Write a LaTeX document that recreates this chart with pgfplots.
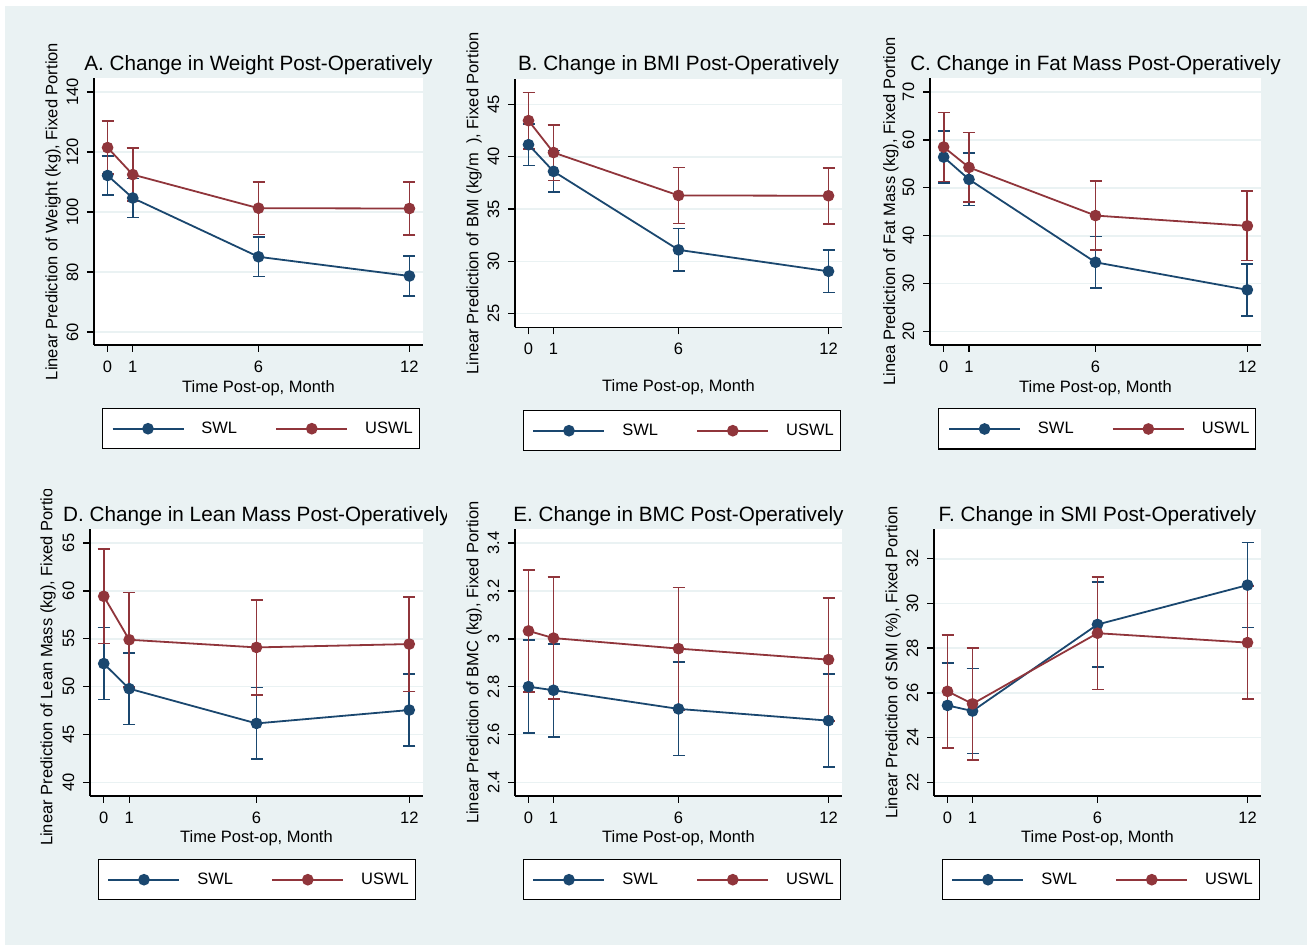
\documentclass[border=0pt]{standalone}
\usepackage{fontspec}
\setmainfont{Liberation Sans}
\usepackage{pgfplots}
\usepackage{pgfplotstable}
\pgfplotsset{compat=1.18}

\definecolor{navy}{HTML}{1A476F}
\definecolor{maroon}{HTML}{90353B}
\definecolor{bgc}{HTML}{EAF2F3}

% t = month, s/se = SWL mean and CI half-width, u/ue = USWL
\pgfplotstableread{
t s se u ue
0 112.2 6.6 121.5 8.9
1 104.7 6.5 112.5 8.8
6 85.1 6.6 101.3 8.8
12 78.7 6.7 101.2 8.8
}\dA
\pgfplotstableread{
t s se u ue
0 41.15 2.0 43.45 2.70
1 38.6 2.0 40.4 2.66
6 31.1 2.03 36.3 2.67
12 29.05 2.03 36.27 2.68
}\dB
\pgfplotstableread{
t s se u ue
0 56.4 5.4 58.5 7.2
1 51.75 5.45 54.25 7.25
6 34.45 5.4 44.2 7.2
12 28.7 5.4 42.05 7.25
}\dC
\pgfplotstableread{
t s se u ue
0 52.4 3.76 59.43 4.94
1 49.78 3.75 54.89 4.95
6 46.15 3.75 54.09 4.97
12 47.55 3.75 54.44 4.95
}\dD
\pgfplotstableread{
t s se u ue
0 2.800 0.194 3.033 0.256
1 2.785 0.194 3.003 0.256
6 2.707 0.195 2.959 0.256
12 2.658 0.195 2.913 0.257
}\dE
\pgfplotstableread{
t s se u ue
0 25.44 1.89 26.07 2.52
1 25.19 1.90 25.51 2.50
6 29.06 1.90 28.67 2.52
12 30.82 1.90 28.25 2.52
}\dF

\pgfplotsset{
  legend image code/.code={
    \draw[#1, mark=none] (0pt,0pt) -- (71pt,0pt);
    \draw[#1, only marks] plot coordinates {(35.5pt,0pt)};
  },
  stpanel/.style={
    scale only axis,
    anchor=south west,
    xmin=-0.54, xmax=12.54,
    xtick={0,1,6,12},
    axis x line*=bottom, axis y line*=left,
    axis line style={line width=1.4pt, black, -},
    major tick style={line width=1.4pt, black},
    major tick length=7pt,
    tick align=outside,
    axis background/.style={fill=white},
    ymajorgrids,
    grid style={line width=1.6pt, color=bgc},
    tick label style={font=\fontsize{16.5}{18}\selectfont},
    label style={font=\fontsize{16.5}{18}\selectfont},
    every axis title/.style={anchor=center, font=\fontsize{20.7}{24}\selectfont},
    /pgf/number format/assume math mode=true,
    yticklabel style={rotate=90, anchor=south, inner xsep=0pt, inner ysep=8.5pt},
    xticklabel style={anchor=north, inner xsep=0pt, inner ysep=8.5pt},
    xlabel={Time Post-op, Month},
    legend columns=2,
    legend style={draw=black, line width=1.2pt, fill=white,
      inner xsep=9.3pt, inner ysep=13.6pt, column sep=0pt,
      anchor=north west, nodes={inner sep=0pt},
      font=\fontsize{16.5}{18}\selectfont},
  },
  ci/.style={only marks, mark=none, forget plot, line width=1.7pt,
    error bars/.cd, y dir=both, y explicit,
    error bar style={line width=1.7pt},
    error mark options={rotate=90, mark size=6pt, line width=1.7pt}},
  ln/.style={line width=1.8pt, mark=*, mark size=4.9pt},
}

\newcommand{\series}[1]{
  \addplot[navy, ci] table[x=t, y=s, y error=se] {#1};
  \addplot[maroon, ci] table[x=t, y=u, y error=ue] {#1};
  \addplot[navy, ln, mark options={fill=navy}] table[x=t, y=s] {#1};
  \addlegendentry{\makebox[91pt][l]{\hspace{17pt}SWL}}
  \addplot[maroon, ln, mark options={fill=maroon}] table[x=t, y=u] {#1};
  \addlegendentry{\makebox[61.7pt][l]{\hspace{17pt}USWL}}
}

\begin{document}
\begin{tikzpicture}
\useasboundingbox (0pt,0pt) rectangle (1307pt,945pt);
\fill[white] (0pt,0pt) rectangle (1307pt,945pt);
\fill[bgc] (5pt,0pt) rectangle (1307pt,939pt);

% A
\begin{axis}[stpanel, at={(94pt,600pt)}, width=329pt, height=267pt,
  ymin=55.7, ymax=144.7, ytick={60,80,...,140},
  title={A. Change in Weight Post-Operatively},
  title style={at={(axis description cs:0.5,1.049)}},
  ylabel={Linear Prediction of Weight (kg), Fixed Portion},
  ylabel style={at={(axis description cs:-0.1246,0.5)}, anchor=center},
  xlabel style={at={(axis description cs:0.5,-0.162)}, anchor=center},
  legend style={at={(0.0234,-0.236)}}]
\series{\dA}
\end{axis}

% B
\begin{axis}[stpanel, at={(515pt,617.7pt)}, width=327pt, height=248pt,
  ymin=23.7, ymax=47.4, ytick={25,30,...,45},
  title={B. Change in BMI Post-Operatively},
  title style={at={(axis description cs:0.5,1.058)}},
  ylabel={Linear Prediction of BMI (kg/m\hspace{9pt}), Fixed Portion},
  ylabel style={at={(axis description cs:-0.1254,0.5)}, anchor=center},
  xlabel style={at={(axis description cs:0.5,-0.241)}, anchor=center},
  legend style={at={(0.0235,-0.3335)}}]
\series{\dB}
\end{axis}

% C
\begin{axis}[stpanel, at={(930pt,600pt)}, width=331pt, height=267pt,
  ymin=17.2, ymax=72.9, ytick={20,30,...,70},
  title={C. Change in Fat Mass Post-Operatively},
  title style={at={(axis description cs:0.5,1.049)}},
  ylabel={Linea Prediction of Fat Mass (kg), Fixed Portion},
  ylabel style={at={(axis description cs:-0.118,0.5)}, anchor=center},
  xlabel style={at={(axis description cs:0.5,-0.162)}, anchor=center},
  legend style={at={(0.025,-0.237)}}]
\series{\dC}
\end{axis}

% D, clipped at its panel edge as in the source
\begin{scope}
\clip (0pt,0pt) rectangle (446pt,455pt);
\begin{axis}[stpanel, at={(90pt,149pt)}, width=333pt, height=267pt,
  ymin=38.57, ymax=66.46, ytick={40,45,...,65},
  title={D. Change in Lean Mass Post-Operatively},
  title style={at={(axis description cs:0.5,1.049)}},
  ylabel={Linear Prediction of Lean Mass (kg), Fixed Portion},
  ylabel style={at={(axis description cs:-0.126,0.5)}, anchor=center},
  xlabel style={at={(axis description cs:0.5,-0.159)}, anchor=center},
  legend style={at={(0.0231,-0.236)}}]
\series{\dD}
\end{axis}
\end{scope}

% E
\begin{axis}[stpanel, at={(515pt,149pt)}, width=327pt, height=267pt,
  ymin=2.343, ymax=3.459, ytick={2.4,2.6,2.8,3,3.2,3.4},
  title={E. Change in BMC Post-Operatively},
  title style={at={(axis description cs:0.5,1.049)}},
  ylabel={Linear Prediction of BMC (kg), Fixed Portion},
  ylabel style={at={(axis description cs:-0.1254,0.5)}, anchor=center},
  xlabel style={at={(axis description cs:0.5,-0.159)}, anchor=center},
  legend style={at={(0.0235,-0.236)}}]
\series{\dE}
\end{axis}

% F
\begin{axis}[stpanel, at={(934pt,149pt)}, width=327pt, height=267pt,
  ymin=21.39, ymax=33.33, ytick={22,24,...,32},
  title={F. Change in SMI Post-Operatively},
  title style={at={(axis description cs:0.5,1.049)}},
  ylabel={Linear Prediction of SMI (\%), Fixed Portion},
  ylabel style={at={(axis description cs:-0.1254,0.5)}, anchor=center},
  xlabel style={at={(axis description cs:0.5,-0.159)}, anchor=center},
  legend style={at={(0.0235,-0.236)}}]
\series{\dF}
\end{axis}
\end{tikzpicture}
\end{document}
